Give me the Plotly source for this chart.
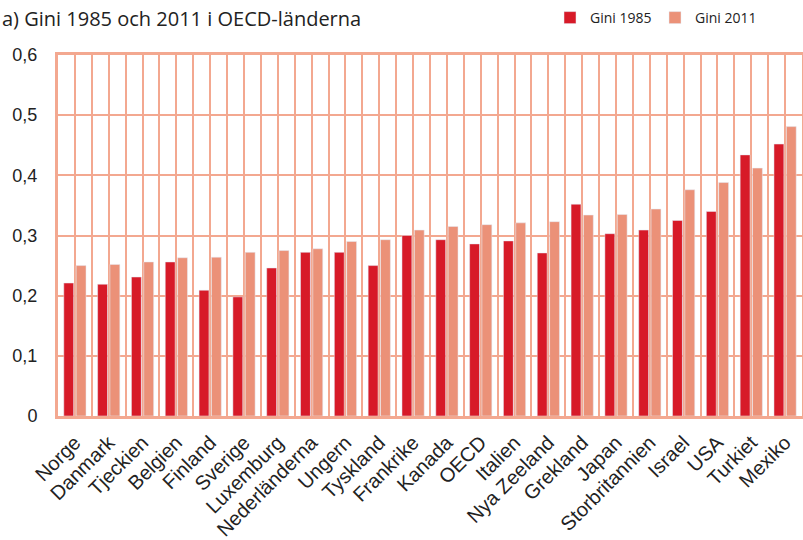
import plotly.graph_objects as go

countries = ["Norge", "Danmark", "Tjeckien", "Belgien", "Finland", "Sverige", "Luxemburg",
             "Nederländerna", "Ungern", "Tyskland", "Frankrike", "Kanada", "OECD", "Italien",
             "Nya Zeeland", "Grekland", "Japan", "Storbritannien", "Israel", "USA", "Turkiet", "Mexiko"]
gini_1985 = [0.221, 0.219, 0.231, 0.256, 0.209, 0.198, 0.246, 0.272, 0.272, 0.250,
             0.300, 0.293, 0.286, 0.291, 0.271, 0.352, 0.303, 0.309, 0.325, 0.340, 0.434, 0.452]
gini_2011 = [0.250, 0.252, 0.256, 0.263, 0.264, 0.272, 0.275, 0.278, 0.290, 0.293,
             0.309, 0.315, 0.318, 0.321, 0.323, 0.334, 0.335, 0.344, 0.376, 0.388, 0.412, 0.481]
y_ticks = [0, 0.1, 0.2, 0.3, 0.4, 0.5, 0.6]
y_tick_labels = ["0", "0,1", "0,2", "0,3", "0,4", "0,5", "0,6"]

RED = "#d71a28"
SALMON = "#eb9178"
GRID = "#f3a890"

pos = list(range(len(countries)))

fig = go.Figure()
fig.add_trace(go.Bar(x=pos, y=gini_1985, name="Gini 1985", marker_color=RED))
fig.add_trace(go.Bar(x=pos, y=gini_2011, name="Gini 2011", marker_color=SALMON))

fig.update_layout(
    width=803, height=540,
    margin=dict(l=58, r=1, t=55, b=124),
    paper_bgcolor="white", plot_bgcolor="white",
    barmode="group", bargap=0.27, bargroupgap=0.2,
    legend=dict(orientation="h", xref="container", yref="container", x=550 / 803, xanchor="left",
                y=1 - 18 / 540, yanchor="middle",
                font=dict(family="Open Sans", size=14, color="#222222"),
                bgcolor="rgba(0,0,0,0)", itemclick=False, entrywidth=60),
    xaxis=dict(range=[-0.5, len(countries) - 0.5], tickvals=pos, ticktext=countries,
               showgrid=True, gridcolor=GRID, gridwidth=2,
               minor=dict(tick0=-0.5, dtick=1, showgrid=True, gridcolor=GRID, gridwidth=2, ticks=""),
               showline=True, linecolor=GRID, linewidth=3, mirror=True, zeroline=False,
               ticks="", tickangle=-45, automargin=False, ticklabelstandoff=4,
               tickfont=dict(family="Liberation Sans", size=20, color="#222222")),
    yaxis=dict(range=[0, 0.6], tickvals=y_ticks, ticktext=y_tick_labels,
               showgrid=True, gridcolor=GRID, gridwidth=2, zeroline=False,
               showline=True, linecolor=GRID, linewidth=3, mirror=True,
               ticks="", ticklabelstandoff=14, automargin=False,
               tickfont=dict(family="Liberation Sans", size=18, color="#222222")),
    annotations=[dict(text="a) Gini 1985 och 2011 i OECD-länderna", xref="paper", yref="paper",
                      x=-58 / 744, xanchor="left", y=1 + (55 - 18) / 361, yanchor="middle",
                      showarrow=False, font=dict(family="Open Sans", size=20, color="#222222"))],
)

fig.write_html("out.html", config={"displayModeBar": False},
               post_script="document.body.style.margin='0';document.body.style.overflow='hidden';")
